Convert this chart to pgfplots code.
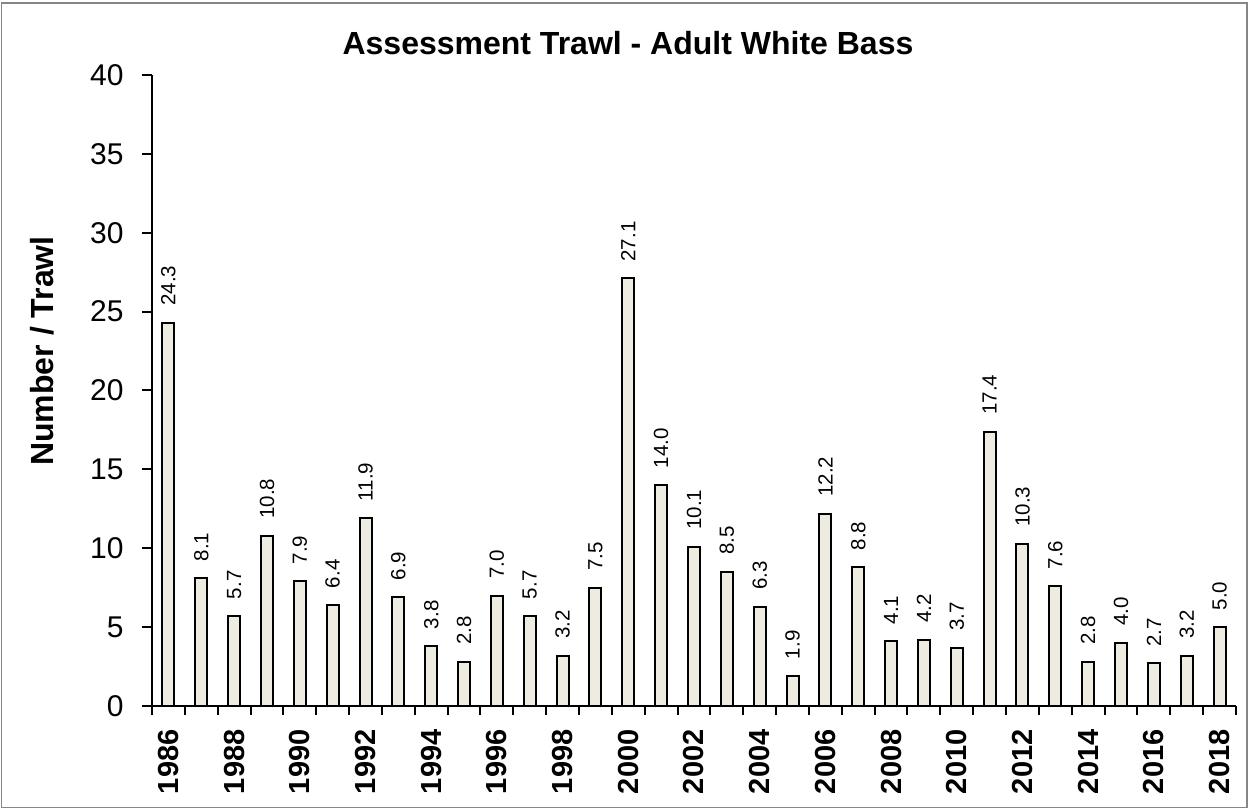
\documentclass[border=0pt]{standalone}
\usepackage{fontspec}
\setmainfont{Liberation Sans}
\usepackage{pgfplots}
\pgfplotsset{compat=1.18}
\definecolor{barfill}{RGB}{238,236,225}
\definecolor{framegray}{RGB}{134,134,134}

\begin{document}
\begin{tikzpicture}[x=1pt,y=1pt]
\useasboundingbox (0,0) rectangle (1249,809);
\begin{axis}[
    at={(152pt,103pt)},
    anchor=origin,
    scale only axis,
    width=1084pt,
    height=631pt,
    ybar,
    bar width=12pt,
    xmin=1985.5, xmax=2018.5,
    ymin=0, ymax=40,
    axis lines*=left,
    axis line style={line width=2pt,black},
    xtick={1986,1988,...,2018},
    minor xtick={1985.5,1986.5,...,2018.5},
    ytick={0,5,...,40},
    tick align=outside,
    major tick length=10pt,
    minor tick length=9pt,
    tick style={line width=2pt,black},
    major x tick style={draw=none},
    xticklabel shift=10pt,
    yticklabel shift=15pt,
    /pgf/number format/assume math mode=true,
    /pgf/number format/1000 sep={},
    yticklabel style={font=\fontsize{30}{35}\selectfont, anchor=east},
    xticklabel style={font=\bfseries\fontsize{29}{34}\selectfont, rotate=90, anchor=east},
    nodes near coords,
    nodes near coords style={font=\fontsize{20.5}{24}\selectfont, rotate=90, anchor=west,
        inner xsep=16pt, inner ysep=0pt,
        /pgf/number format/fixed, /pgf/number format/fixed zerofill, /pgf/number format/precision=1},
    clip=false,
]
\addplot[draw=black, line width=2pt, fill=barfill] coordinates {
(1986,24.3) (1987,8.1) (1988,5.7) (1989,10.8) (1990,7.9) (1991,6.4)
(1992,11.9) (1993,6.9) (1994,3.8) (1995,2.8) (1996,7.0) (1997,5.7)
(1998,3.2) (1999,7.5) (2000,27.1) (2001,14.0) (2002,10.1) (2003,8.5)
(2004,6.3) (2005,1.9) (2006,12.2) (2007,8.8) (2008,4.1) (2009,4.2)
(2010,3.7) (2011,17.4) (2012,10.3) (2013,7.6) (2014,2.8) (2015,4.0)
(2016,2.7) (2017,3.2) (2018,5.0)};
\end{axis}
\node[font=\bfseries\fontsize{32}{38}\selectfont, anchor=base] at (628,754) {Assessment Trawl - Adult White Bass};
\node[font=\bfseries\fontsize{32}{38}\selectfont, anchor=base, rotate=90] at (53,458) {Number / Trawl};
\draw[line width=1.5pt, framegray] (1.5,1.5) rectangle (1247,806);
\end{tikzpicture}
\end{document}
